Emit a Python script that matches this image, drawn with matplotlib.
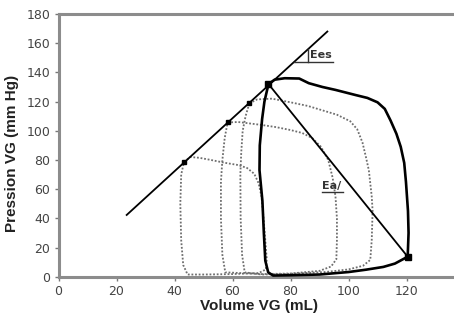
import matplotlib
matplotlib.use("Agg")
import matplotlib.pyplot as plt
import numpy as np

# ---- data ----
# main (solid) pressure-volume loop
main_v = [72.4, 74.5, 78, 83, 86.3, 91, 95.5, 102.4, 106.5, 110, 112.5, 114.5, 116.5, 118, 119.2,
          119.8, 120.5, 120.7, 120.4, 116, 112, 106, 100, 90, 80, 74, 72.3, 71.3, 70.8, 70.3,
          69.3, 69.4, 70.2, 71, 72.4]
main_p = [132, 135, 136, 135.8, 132.6, 130, 128, 124.5, 122.5, 119.5, 115, 107, 98, 89, 78,
          65, 45, 30, 13.7, 9, 6.7, 4.8, 3.2, 1.5, 1, 0.8, 3, 11, 30, 52,
          73, 90, 108, 120, 132]

# dotted loops (occlusion)
loop2_v = [65.8, 68.5, 73.6, 80, 86, 91, 96, 100.6, 103, 104.8, 106, 107, 108, 108.3, 108, 107.5,
           105, 100, 92, 80, 70, 64.2, 63.3, 62.8, 62.7, 63, 63.5, 64.5, 65.8]
loop2_p = [118.8, 121.5, 122, 119.5, 117, 114, 111, 106.5, 101, 92, 82, 73, 55, 45, 25, 11.5,
           7.5, 5, 3.2, 2, 1.5, 3, 15, 40, 70, 85, 100, 110, 118.8]

loop3_v = [58.3, 62, 66, 70, 75, 80, 84, 87.5, 90.5, 93, 94.5, 95.5, 96, 96, 95.8, 94, 90, 80, 70,
           57.5, 56.5, 56, 56, 56.5, 57.3, 58.3]
loop3_p = [105.7, 106, 105, 104, 102.5, 100.5, 98.5, 95, 89, 80, 68, 55, 40, 25, 12, 7, 4, 2.2, 1.8,
           3, 15, 40, 65, 80, 95, 105.7]

loop4_v = [43.3, 45.5, 48.5, 52, 57.5, 62, 65, 67.5, 69, 70, 70.7, 71.3, 71.8, 71.5, 69, 60, 50,
           44.5, 43, 42.3, 42, 42.3, 43.3]
loop4_p = [78.8, 82, 81.5, 80.2, 78, 76.5, 74.5, 70.5, 64, 55, 40, 25, 12, 5, 2.5, 1.8, 1.5,
           1.5, 8, 25, 50, 70, 78.8]

# end-systolic points and end-diastolic point
es_small_v = [43.3, 58.3, 65.8]
es_small_p = [78.8, 105.7, 118.8]
big_pts_v = [72.4, 120.4]
big_pts_p = [132, 13.7]

# Ees line (end-systolic pressure-volume relation)
ees_v = [23.5, 92.7]
ees_p = [42.3, 168]
# Ea line (from end-systole to end-diastole)
ea_v = [72.4, 120.4]
ea_p = [132, 13.7]

xticks = [0, 20, 40, 60, 80, 100, 120, 140]
yticks = [0, 20, 40, 60, 80, 100, 120, 140, 160, 180]

# ---- figure ----
fig = plt.figure(figsize=(4.54, 3.2), dpi=100)
ax = fig.add_axes([0.1289, 0.1353, 0.8943, 0.8209])
ax.set_xlim(0, 140)
ax.set_ylim(0, 180)

dot_col = "#6e6e6e"
dot_style = (0, (1, 1))
for v, p in [(loop2_v, loop2_p), (loop3_v, loop3_p), (loop4_v, loop4_p)]:
    ax.plot(v, p, color=dot_col, lw=1.3, linestyle=dot_style, zorder=2)

ax.plot(main_v, main_p, color="black", lw=1.9, zorder=3, solid_joinstyle="round")
ax.plot(ees_v, ees_p, color="black", lw=1.3, zorder=3)
ax.plot(ea_v, ea_p, color="black", lw=1.3, zorder=3)

ax.plot(es_small_v, es_small_p, linestyle="none", marker="s", ms=3.2, color="black", zorder=4)
ax.plot(big_pts_v, big_pts_p, linestyle="none", marker="s", ms=5, color="black", zorder=4)

# Ees slope triangle + label
slope = (ees_p[1] - ees_p[0]) / (ees_v[1] - ees_v[0])
base_y = 147.3
x_left = ees_v[0] + (base_y - ees_p[0]) / slope
x_right = 86.0
top_y = ees_p[0] + slope * (x_right - ees_v[0])
ax.plot([x_left, 94.6], [base_y, base_y], color="#333333", lw=1.0, zorder=3)
ax.plot([x_right, x_right], [base_y, top_y], color="#333333", lw=1.0, zorder=3)
ax.text(86.8, 148.3, "Ees", fontsize=8, color="#333333", ha="left", va="bottom",
        family="DejaVu Sans", fontweight="bold")

# Ea label
ax.text(91.0, 59.0, "Ea/", fontsize=8, color="#333333", ha="left", va="bottom",
        family="DejaVu Sans", fontweight="bold")
ax.plot([90.8, 98.2], [58.3, 58.3], color="#333333", lw=1.0, zorder=3)

# axes styling
ax.set_xticks(xticks)
ax.set_yticks(yticks)
ax.tick_params(direction="out", length=3, width=1, color="#777777", labelcolor="#444444",
               labelsize=9, pad=3)
for lab in ax.get_xticklabels() + ax.get_yticklabels():
    lab.set_family("DejaVu Sans")
for s in ["left", "bottom", "top"]:
    ax.spines[s].set_color("#8c8c8c")
    ax.spines[s].set_linewidth(2.2)
ax.spines["right"].set_visible(False)

ax.set_xlabel("Volume VG (mL)", fontsize=11, fontweight="bold", family="Liberation Sans",
              color="#222222", labelpad=6)
ax.set_ylabel("Pression VG (mm Hg)", fontsize=11, fontweight="bold", family="Liberation Sans",
              color="#222222", labelpad=6)
ax.xaxis.set_label_coords((259 - 58.5) / 406, -0.085)
ax.yaxis.set_label_coords(-0.098, 0.47)

fig.savefig("out.png", dpi=100)
